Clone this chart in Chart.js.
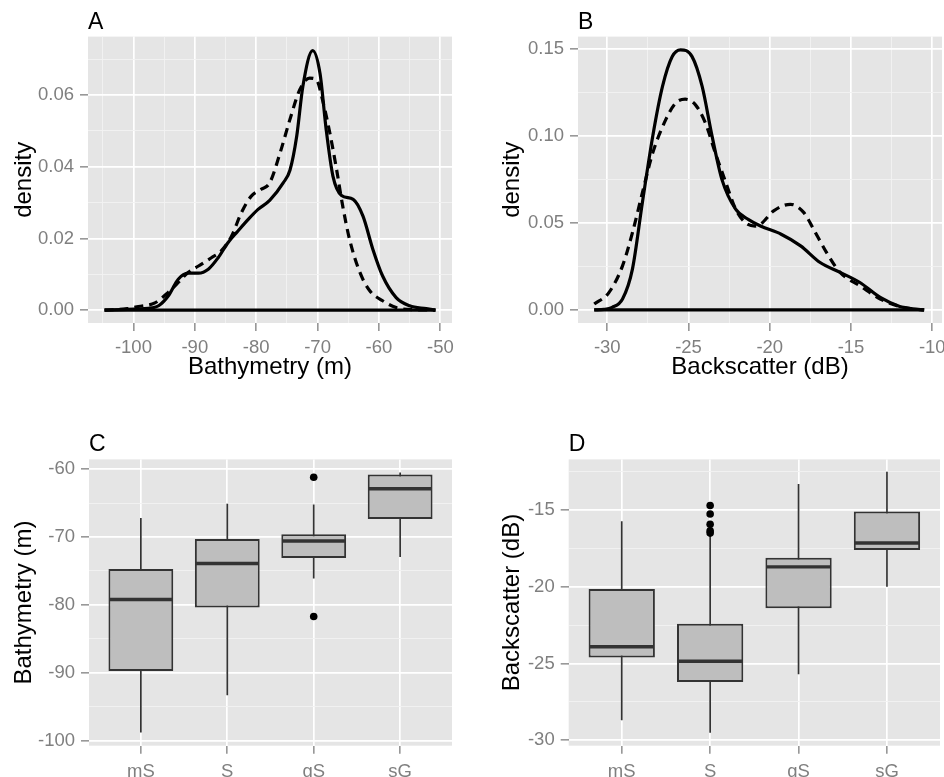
<!DOCTYPE html>
<html>
<head>
<meta charset="utf-8">
<script src="https://cdn.jsdelivr.net/npm/chart.js@4.4.0/dist/chart.umd.min.js"></script>
<style>
  html, body { margin: 0; padding: 0; background: #fff; }
  #wrap { position: relative; width: 944px; height: 777px; overflow: hidden; }
  canvas { position: absolute; }
</style>
</head>
<body>
<div id="wrap">
  <canvas id="chartC" width="472" height="397" style="left:0;top:380px"></canvas>
  <canvas id="chartD" width="472" height="397" style="left:472px;top:380px"></canvas>
  <canvas id="chartA" width="472" height="395" style="left:0;top:0"></canvas>
  <canvas id="chartB" width="472" height="395" style="left:472px;top:0"></canvas>
</div>
<script>
// ---- panel A: bathymetry density (solid / dashed group)
const bathySolidX = [-104.7, -101, -97, -95.9, -94.3, -92.7, -91.1, -89.4, -87.8, -86.2, -84.6, -83.0, -81.3, -79.7, -77.8, -75.6, -74.5, -73.4, -72.4, -70.8, -69.6, -68.6, -67.5, -66.1, -64.2, -62.6, -61.0, -59.4, -57.2, -55.0, -52.3, -50.8];
const bathySolidY = [0, 0.0002, 0.0006, 0.0012, 0.004, 0.0086, 0.0103, 0.0103, 0.0114, 0.0146, 0.0188, 0.022, 0.0253, 0.0281, 0.0306, 0.0355, 0.039, 0.0485, 0.0624, 0.0724, 0.066, 0.0504, 0.0374, 0.032, 0.0309, 0.0262, 0.017, 0.0095, 0.0035, 0.0012, 0.0004, 0];
const bathyDashX = [-104.7, -101, -99.2, -96.5, -94.3, -92.7, -91.1, -89.4, -87.3, -85.7, -84.0, -82.4, -80.8, -79.2, -77.8, -76.1, -74.5, -72.9, -71.3, -70.2, -69.2, -68.0, -66.9, -65.9, -64.8, -63.1, -61.5, -59.4, -57.2, -54, -50.8];
const bathyDashY = [0, 0.0004, 0.001, 0.002, 0.005, 0.0077, 0.0105, 0.0123, 0.0146, 0.0165, 0.0207, 0.0272, 0.0318, 0.0337, 0.0355, 0.0439, 0.0532, 0.0615, 0.0647, 0.0643, 0.0587, 0.0494, 0.0392, 0.029, 0.0198, 0.0105, 0.0054, 0.0026, 0.0007, 0.0001, 0];

// ---- panel B: backscatter density
const bsSolidX = [-30.8, -30.2, -29.7, -29.06, -28.45, -27.84, -27.2, -26.6, -26.0, -25.49, -24.78, -24.16, -23.55, -22.94, -22.1, -21.3, -20.57, -19.3, -18.1, -16.9, -15.67, -14.45, -13.2, -12.0, -11.2, -10.5];
const bsSolidY = [0, 0.0003, 0.0015, 0.0063, 0.0235, 0.0617, 0.100, 0.1286, 0.1458, 0.1497, 0.1458, 0.1286, 0.100, 0.075, 0.058, 0.052, 0.0483, 0.0436, 0.0369, 0.0273, 0.0216, 0.0158, 0.0072, 0.002, 0.0006, 0];
const bsDashX = [-30.8, -29.9, -29.06, -28.45, -27.84, -27.2, -26.4, -25.8, -25.2, -24.57, -23.96, -23.35, -22.7, -22.1, -21.5, -20.9, -20.57, -19.76, -18.73, -17.9, -17.3, -16.5, -15.67, -14.45, -13.2, -12.0, -11.2, -10.5];
const bsDashY = [0.0034, 0.010, 0.0254, 0.0445, 0.0674, 0.0904, 0.1095, 0.119, 0.1213, 0.118, 0.1076, 0.0904, 0.0732, 0.058, 0.0502, 0.0483, 0.0493, 0.057, 0.0608, 0.056, 0.0464, 0.033, 0.0216, 0.0139, 0.0063, 0.002, 0.0006, 0];

// ---- boxplots C and D
const sedCats = ['mS', 'S', 'gS', 'sG'];

const bathyLow = [-98.8, -93.3, -76.1, -72.95];
const bathyQ1 = [-89.75, -80.4, -73.1, -67.35];
const bathyMed = [-79.2, -73.9, -70.6, -62.9];
const bathyQ3 = [-74.7, -70.3, -69.6, -60.8];
const bathyHigh = [-67.2, -65.1, -65.2, -60.5];
const bathyOutCat = ['gS', 'gS'];
const bathyOutVal = [-61.2, -81.7];

const bsLow = [-28.7, -29.5, -25.7, -20.0];
const bsQ1 = [-24.6, -26.2, -21.4, -17.6];
const bsMed = [-23.9, -24.85, -18.7, -17.15];
const bsQ3 = [-20.15, -22.4, -18.1, -15.1];
const bsHigh = [-15.73, -16.6, -13.3, -12.5];
const bsOutCat = ['S', 'S', 'S', 'S', 'S'];
const bsOutVal = [-14.7, -15.26, -15.93, -16.35, -16.5];

// ---- axis ticks
const bathyTicks = [-100, -90, -80, -70, -60, -50];
const bathyMinor = [-105, -95, -85, -75, -65, -55];
const densATicks = [0, 0.02, 0.04, 0.06];
const densAMinor = [0.01, 0.03, 0.05, 0.07];
const bsTicks = [-30, -25, -20, -15, -10];
const bsMinor = [-27.5, -22.5, -17.5, -12.5];
const densBTicks = [0, 0.05, 0.10, 0.15];
const densBMinor = [0.025, 0.075, 0.125];
const boxCTicks = [-100, -90, -80, -70, -60];
const boxCMinor = [-95, -85, -75, -65];
const boxDTicks = [-30, -25, -20, -15];
const boxDMinor = [-27.5, -22.5, -17.5, -12.5];

const FONT = '"Liberation Sans", Arial, Helvetica, sans-serif';
const TICK_GREY = '#7f7f7f';

const panelBg = {
    id: 'panelBg',
    beforeDraw(chart) {
        const {ctx, chartArea: a} = chart;
        ctx.save();
        ctx.fillStyle = '#e5e5e5';
        ctx.fillRect(a.left, a.top, a.right - a.left, a.bottom - a.top);
        ctx.restore();
    }
};

function near(list, v) {
    return list.some(m => Math.abs(m - v) < 1e-9);
}

function isMajor(list, c) {
    return !!c.tick && near(list, c.tick.value);
}

function axis(o) {
    const horizontal = o.pos === 'x';
    return {
        type: 'linear',
        bounds: 'data',
        offset: false,
        min: o.min,
        max: o.max,
        afterBuildTicks: (s) => {
            s.ticks = o.major.concat(o.minor).map(v => ({value: v}));
        },
        afterFit: (s) => {
            if (horizontal) {
                s.height = o.size;
                s.paddingLeft = 0;
                s.paddingRight = 0;
            } else {
                s.width = o.size;
                s.paddingTop = 0;
                s.paddingBottom = 0;
            }
        },
        ticks: {
            autoSkip: false,
            maxRotation: 0,
            color: TICK_GREY,
            padding: o.tickPad,
            font: {family: FONT, size: 18.5},
            callback: (v) => near(o.major, v) ? o.fmt(v) : ''
        },
        grid: {
            offset: false,
            color: (c) => isMajor(o.major, c) ? '#ffffff' : '#f2f2f2',
            lineWidth: (c) => isMajor(o.major, c) ? 1.7 : 0.9,
            tickColor: (c) => isMajor(o.major, c) ? TICK_GREY : 'rgba(0,0,0,0)',
            tickLength: 8,
            tickWidth: 1.3
        },
        border: {display: false},
        title: {
            display: !!o.title,
            text: o.title,
            color: '#000',
            font: {family: FONT, size: 24},
            padding: o.titlePad
        }
    };
}

function panelTitle(text, top, bottom) {
    return {
        display: true,
        text: text,
        align: 'start',
        fullSize: false,
        color: '#000',
        font: {family: FONT, size: 23, weight: 'normal'},
        padding: {top: top, bottom: bottom}
    };
}

function pts(xs, ys) {
    return xs.map((x, i) => ({x: x, y: ys[i]}));
}

function densityLine(data, dashed) {
    return {
        data: data,
        borderColor: '#000',
        borderWidth: 3.2,
        borderDash: dashed ? [9, 6] : [],
        pointRadius: 0,
        fill: false,
        cubicInterpolationMode: 'monotone'
    };
}

function densityChart(id, c) {
    const xMin = Math.min(c.solidX[0], c.dashX[0]);
    const xMax = Math.max(c.solidX[c.solidX.length - 1], c.dashX[c.dashX.length - 1]);
    new Chart(document.getElementById(id), {
        type: 'line',
        data: {
            datasets: [
                densityLine(pts(c.solidX, c.solidY), false),
                densityLine(pts(c.dashX, c.dashY), true),
                densityLine([{x: xMin, y: 0}, {x: xMax, y: 0}], false)
            ]
        },
        options: {
            responsive: false,
            animation: false,
            layout: {padding: {left: 0, top: 0, right: c.padRight, bottom: 0}},
            plugins: {
                legend: {display: false},
                tooltip: {enabled: false},
                title: panelTitle(c.label, 9, 0)
            },
            scales: {
                x: axis({pos: 'x', min: c.xMin, max: c.xMax, major: c.xTicks, minor: c.xMinor,
                    fmt: v => String(v), size: 72, tickPad: 6, title: c.xTitle, titlePad: {bottom: 13}}),
                y: axis({pos: 'y', min: c.yMin, max: c.yMax, major: c.yTicks, minor: c.yMinor,
                    fmt: v => v.toFixed(2), size: c.yWidth, tickPad: 6, title: 'density', titlePad: {top: c.yTitlePad}})
            }
        },
        plugins: [panelBg]
    });
}

function boxChart(id, c) {
    const idx = (name) => sedCats.indexOf(name) + 1;
    const halfBox = (ctx) => {
        const s = ctx.chart.scales.x;
        return Math.abs(s.getPixelForValue(0.75) - s.getPixelForValue(0)) / 2 - 1;
    };
    new Chart(document.getElementById(id), {
        type: 'bar',
        data: {
            datasets: [
                {
                    // whiskers
                    data: sedCats.map((n, i) => ({x: i + 1, y: [c.low[i], c.high[i]]})),
                    backgroundColor: '#333333',
                    borderWidth: 0,
                    grouped: false,
                    maxBarThickness: 1.7,
                    order: 4
                },
                {
                    // boxes
                    data: sedCats.map((n, i) => ({x: i + 1, y: [c.q1[i], c.q3[i]]})),
                    backgroundColor: '#bebebe',
                    borderColor: '#333333',
                    borderWidth: 2,
                    borderSkipped: false,
                    grouped: false,
                    barPercentage: 0.75,
                    categoryPercentage: 1,
                    order: 3
                },
                {
                    // medians
                    type: 'scatter',
                    data: sedCats.map((n, i) => ({x: i + 1, y: c.med[i]})),
                    pointStyle: 'line',
                    pointRadius: halfBox,
                    borderColor: '#333333',
                    borderWidth: 3.4,
                    order: 2
                },
                {
                    // outliers
                    type: 'scatter',
                    data: c.outCat.map((n, i) => ({x: idx(n), y: c.outVal[i]})),
                    pointStyle: 'circle',
                    pointRadius: 3.8,
                    backgroundColor: '#000',
                    borderWidth: 0,
                    order: 1
                }
            ]
        },
        options: {
            responsive: false,
            animation: false,
            layout: {padding: {left: 0, top: 0, right: c.padRight, bottom: 0}},
            plugins: {
                legend: {display: false},
                tooltip: {enabled: false},
                title: panelTitle(c.label, 51, 0.8)
            },
            scales: {
                x: axis({pos: 'x', min: 0.4, max: 4.6, major: [1, 2, 3, 4], minor: [],
                    fmt: v => sedCats[v - 1], size: 31.3, tickPad: 7}),
                y: axis({pos: 'y', min: c.yMin, max: c.yMax, major: c.yTicks, minor: c.yMinor,
                    fmt: v => String(v), size: c.yWidth, tickPad: 6, title: c.yTitle, titlePad: {top: c.yTitlePad}})
            }
        },
        plugins: [panelBg]
    });
}

densityChart('chartA', {
    label: 'A', solidX: bathySolidX, solidY: bathySolidY, dashX: bathyDashX, dashY: bathyDashY,
    xMin: -107.4, xMax: -48.1, xTicks: bathyTicks, xMinor: bathyMinor, xTitle: 'Bathymetry (m)',
    yMin: -0.0036, yMax: 0.0763, yTicks: densATicks, yMinor: densAMinor,
    yWidth: 88, yTitlePad: 10, padRight: 20
});

densityChart('chartB', {
    label: 'B', solidX: bsSolidX, solidY: bsSolidY, dashX: bsDashX, dashY: bsDashY,
    xMin: -31.8, xMax: -9.4, xTicks: bsTicks, xMinor: bsMinor, xTitle: 'Backscatter (dB)',
    yMin: -0.0075, yMax: 0.1573, yTicks: densBTicks, yMinor: densBMinor,
    yWidth: 106, yTitlePad: 26, padRight: 2
});

boxChart('chartC', {
    label: 'C', low: bathyLow, q1: bathyQ1, med: bathyMed, q3: bathyQ3, high: bathyHigh,
    outCat: bathyOutCat, outVal: bathyOutVal,
    yMin: -100.74, yMax: -58.57, yTicks: boxCTicks, yMinor: boxCMinor,
    yTitle: 'Bathymetry (m)', yWidth: 89, yTitlePad: 10, padRight: 20
});

boxChart('chartD', {
    label: 'D', low: bsLow, q1: bsQ1, med: bsMed, q3: bsQ3, high: bsHigh,
    outCat: bsOutCat, outVal: bsOutVal,
    yMin: -30.35, yMax: -11.7, yTicks: boxDTicks, yMinor: boxDMinor,
    yTitle: 'Backscatter (dB)', yWidth: 96.7, yTitlePad: 26, padRight: 2.3
});
</script>
</body>
</html>
